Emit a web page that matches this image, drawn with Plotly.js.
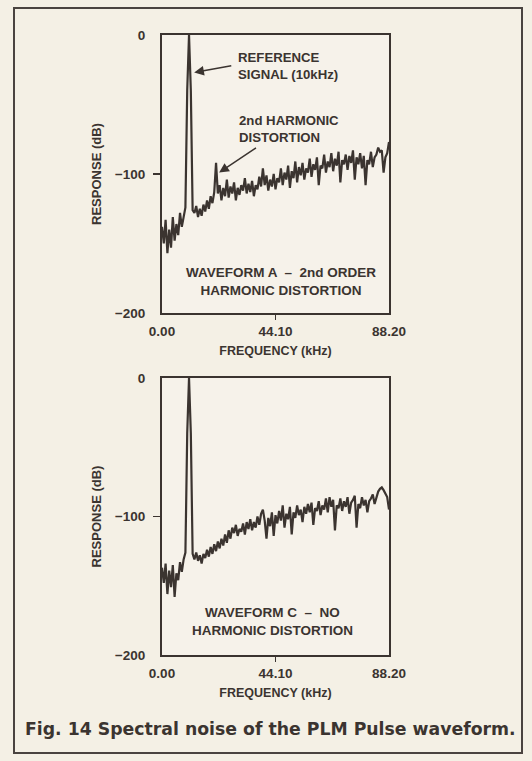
<!DOCTYPE html>
<html>
<head>
<meta charset="utf-8">
<script src="https://cdn.plot.ly/plotly-3.0.1.min.js"></script>
<style>
  html, body { margin: 0; padding: 0; background: #f4f0e5; }
  #chart { width: 532px; height: 761px; }
</style>
</head>
<body>
<div id="chart"></div>
<script>
// Frequency bins (kHz)
const freqKHz = [0,0.7,1.4,2.1,2.8,3.5,4.2,4.9,5.6,6.3,7,7.7,8.4,9.1,9.8,10.5,11.2,11.9,12.6,13.3,14,14.7,15.4,16.1,16.8,17.5,18.2,18.9,19.6,20.3,21,21.7,22.4,23.1,23.8,24.5,25.2,25.9,26.6,27.3,28,28.7,29.4,30.1,30.8,31.5,32.2,32.9,33.6,34.3,35,35.7,36.4,37.1,37.8,38.5,39.2,39.9,40.6,41.3,42,42.7,43.4,44.1,44.8,45.5,46.2,46.9,47.6,48.3,49,49.7,50.4,51.1,51.8,52.5,53.2,53.9,54.6,55.3,56,56.7,57.4,58.1,58.8,59.5,60.2,60.9,61.6,62.3,63,63.7,64.4,65.1,65.8,66.5,67.2,67.9,68.6,69.3,70,70.7,71.4,72.1,72.8,73.5,74.2,74.9,75.6,76.3,77,77.7,78.4,79.1,79.8,80.5,81.2,81.9,82.6,83.3,84,84.7,85.4,86.1,86.8,87.5,88.2];

// Waveform A - 2nd order harmonic distortion (dB)
const responseA = [-138,-150,-133,-157,-140,-153,-131,-148,-136,-144,-128,-138,-131,
-124,-40,0,-40,-126,
-128,-123,-131,-125,-130,-122,-127,-119,-125,-116,-121,-113,
-92,
-114,-108,-119,-110,-116,-104,-117,-109,-114,-106,-119,-110,-115,-108,-112,-103,-114,-107,-113,-105,-116,-108,-111,-102,-109,
-96,-108,-101,-112,-104,-109,-100,-111,-103,-106,-96,-108,-99,-104,-94,-110,-98,-103,-91,-106,-95,-101,-92,-104,-96,
-99,-89,-102,-93,-97,-88,-108,-94,-96,-86,-99,-91,-95,-85,-98,-89,-94,-84,-106,-90,-93,-86,-97,-87,-92,
-83,-104,-88,-93,-85,-96,-87,-108,-90,-93,-84,-95,-88,-86,-81,-84,-83,-99,-88,-85,-77];

// Waveform C - no harmonic distortion (dB)
const responseC = [-137,-148,-134,-156,-139,-151,-135,-158,-141,-146,-133,-140,-131,
-126,-40,0,-40,-127,
-131,-126,-132,-128,-134,-127,-130,-124,-129,-122,
-127,-120,-125,-118,-123,-116,-121,-113,-119,-110,
-116,-108,-112,-106,-114,-109,-111,-105,-113,-104,
-109,-102,-110,-104,-108,-100,-106,-98,
-95,-103,-116,-101,-107,-97,-114,-99,-105,-96,
-103,-92,-108,-98,-102,-93,-113,-97,-101,-92,
-99,-95,-104,-93,-98,-91,-97,-90,-106,-94,
-96,-89,-99,-92,-95,-87,-97,-86,-93,-88,
-110,-92,-94,-87,-96,-89,-93,-86,-98,-90,
-88,-85,-108,-91,-94,-86,-92,-88,-97,-89,
-87,-84,-91,-86,-82,-80,-79,-81,-84,-86,-95];

const xTickVals = [0, 44.1, 88.2];
const xTickText = ['0.00', '44.10', '88.20'];
const yTickVals = [0, -100, -200];

const ink = '#3b3430';
const FONT = 'Liberation Sans, Arial, sans-serif';

function xAxis(anchor) {
  return {
    domain: [162/532, 389/532], anchor: anchor, range: [0, 88.2],
    tickmode: 'array', tickvals: xTickVals, ticktext: xTickText,
    ticks: '', ticklabelstandoff: 5,
    minor: { tickvals: [44.1], ticks: 'outside', ticklen: 5, tickwidth: 1.5, tickcolor: ink },
    showline: true, mirror: true, linecolor: ink, linewidth: 2,
    showgrid: false, zeroline: false, fixedrange: true,
    tickfont: { family: FONT, size: 13.5, color: ink, weight: 'bold' },
    title: { text: '<b>FREQUENCY (kHz)</b>', standoff: 8,
             font: { family: FONT, size: 12.5, color: ink } }
  };
}
function yAxis(anchor, domain) {
  return {
    domain: domain, anchor: anchor, range: [-200, 0],
    tickmode: 'array', tickvals: yTickVals,
    ticks: '', ticklabelstandoff: 12,
    minor: { tickvals: [-100], ticks: 'outside', ticklen: 7, tickwidth: 1.5, tickcolor: ink },
    showline: true, mirror: true, linecolor: ink, linewidth: 2,
    showgrid: false, zeroline: false, fixedrange: true,
    tickfont: { family: FONT, size: 13.5, color: ink, weight: 'bold' },
    title: { text: '<b>RESPONSE (dB)</b>', standoff: 10,
             font: { family: FONT, size: 13, color: ink } }
  };
}

const lineStyle = { color: ink, width: 2.2 };
const traces = [
  { x: freqKHz, y: responseA, type: 'scatter', mode: 'lines', line: lineStyle, xaxis: 'x', yaxis: 'y', hoverinfo: 'skip' },
  { x: freqKHz, y: responseC, type: 'scatter', mode: 'lines', line: lineStyle, xaxis: 'x2', yaxis: 'y2', hoverinfo: 'skip' }
];

const annFont = { family: FONT, size: 13.2, color: ink, weight: 'bold' };
const boxFont = { family: FONT, size: 13.5, color: ink, weight: 'bold' };
const layout = {
  width: 532, height: 761,
  margin: { l: 0, r: 0, t: 0, b: 0 },
  paper_bgcolor: '#f4f0e5', plot_bgcolor: '#f6f2ea',
  showlegend: false,
  xaxis: xAxis('y'),
  yaxis: yAxis('x', [1 - 313/761, 1 - 35/761]),
  xaxis2: xAxis('y2'),
  yaxis2: yAxis('x2', [1 - 655/761, 1 - 378/761]),
  shapes: [
    { type: 'rect', xref: 'paper', yref: 'paper', x0: 14/532, x1: 522/532, y0: 1 - 753/761, y1: 1 - 8/761,
      line: { color: '#4a4440', width: 2 }, fillcolor: 'rgba(0,0,0,0)', layer: 'below' }
  ],
  annotations: [
    { xref: 'x', yref: 'y', x: 28.9, y: -22.5, xanchor: 'left', yanchor: 'middle', align: 'left', showarrow: false,
      text: 'REFERENCE<br>SIGNAL (10kHz)', font: annFont },
    { xref: 'x', yref: 'y', axref: 'x', ayref: 'y', x: 12.5, y: -27, ax: 27.5, ay: -22, text: '',
      showarrow: true, arrowhead: 2, arrowsize: 1.3, arrowwidth: 1.5, arrowcolor: ink },
    { xref: 'x', yref: 'y', x: 29.3, y: -67.5, xanchor: 'left', yanchor: 'middle', align: 'left', showarrow: false,
      text: '2nd HARMONIC<br>DISTORTION', font: annFont },
    { xref: 'x', yref: 'y', axref: 'x', ayref: 'y', x: 22.2, y: -99, ax: 37.1, ay: -80.5, text: '',
      showarrow: true, arrowhead: 2, arrowsize: 1.3, arrowwidth: 1.5, arrowcolor: ink },
    { xref: 'x', yref: 'y', x: 46.4, y: -177.5, xanchor: 'center', yanchor: 'middle', align: 'center', showarrow: false,
      text: 'WAVEFORM A  –  2nd ORDER<br>HARMONIC DISTORTION', font: boxFont },
    { xref: 'x2', yref: 'y2', x: 42.9, y: -176, xanchor: 'center', yanchor: 'middle', align: 'center', showarrow: false,
      text: 'WAVEFORM C  –  NO<br>HARMONIC DISTORTION', font: boxFont },
    { xref: 'paper', yref: 'paper', x: 270/532, y: 1 - 729/761, xanchor: 'center', yanchor: 'middle', showarrow: false,
      text: 'Fig. 14 Spectral noise of the PLM Pulse waveform.', font: { family: 'DejaVu Sans, sans-serif', size: 17.3, color: ink, weight: 'bold' } }
  ]
};

Plotly.newPlot('chart', traces, layout, { staticPlot: true, displayModeBar: false });
</script>
</body>
</html>
